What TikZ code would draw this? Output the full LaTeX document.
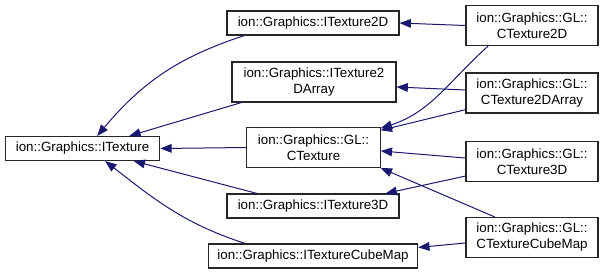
\documentclass[tikz,border=0pt]{standalone}
\usepackage{fontspec}
\setmainfont{Liberation Sans}
\usepackage{tikz}
\usetikzlibrary{arrows.meta}
\definecolor{edgecol}{RGB}{25,25,112}
\tikzset{
  cls box/.style={rectangle,draw=black!85,fill=white,line width=0.8pt,inner sep=0pt,align=center,font=\fontsize{10}{12}\selectfont},
  cls one/.style={cls box,minimum height=18pt},
  cls two/.style={cls box,minimum height=30pt},
  cls edge/.style={draw=edgecol,line width=0.75pt,-{Triangle[length=8.5pt,width=6.5pt]}}
}

\begin{document}
\begin{tikzpicture}[x=0.75pt,y=-0.75pt]
  \useasboundingbox (0,0) rectangle (604,275);
  \node[cls one,minimum width=116pt] (tex) at (82.5,148.5) {ion::Graphics::ITexture};
  \node[cls one,minimum width=129pt] (tex2d) at (313,23) {ion::Graphics::ITexture2D};
  \node[cls two,minimum width=123pt] (tex2darr) at (314,82) {ion::Graphics::ITexture2\\DArray};
  \node[cls two,minimum width=100pt] (gltex) at (313.5,147.5) {ion::Graphics::GL::\\CTexture};
  \node[cls one,minimum width=129pt] (tex3d) at (313,206) {ion::Graphics::ITexture3D};
  \node[cls one,minimum width=157pt] (texcube) at (313,256) {ion::Graphics::ITextureCubeMap};
  \node[cls two,minimum width=99pt] (gl2d) at (532,25.5) {ion::Graphics::GL::\\CTexture2D};
  \node[cls two,minimum width=99pt] (gl2darr) at (532,93) {ion::Graphics::GL::\\CTexture2DArray};
  \node[cls two,minimum width=99pt] (gl3d) at (532,161.5) {ion::Graphics::GL::\\CTexture3D};
  \node[cls two,minimum width=99pt] (glcube) at (532,237.5) {ion::Graphics::GL::\\CTextureCubeMap};
  % interfaces up to ITexture
  \draw[cls edge] ([xshift=13.5pt]tex2d.south west) to[out=198,in=50] ([xshift=11pt]tex.north);
  \draw[cls edge] ([xshift=7.5pt]tex2darr.south west) -- ([xshift=93.5pt]tex.north west);
  \draw[cls edge] (gltex.west) -- (tex.east);
  \draw[cls edge] ([xshift=23pt]tex3d.north west) -- ([xshift=-20pt]tex.south east);
  \draw[cls edge] ([xshift=28pt]texcube.north west) to[out=162,in=-38] ([xshift=17pt]tex.south);
  % GL classes
  \draw[cls edge] (gl2d.west) -- (tex2d.east);
  \draw[cls edge] ([yshift=2.25pt]gl2darr.west) -- ([yshift=-3.75pt]tex2darr.east);
  \draw[cls edge] ([xshift=17pt]gl2d.south west) to[out=222,in=18] ([yshift=-1pt]gltex.north east);
  \draw[cls edge] ([yshift=-12.5pt]gl2darr.west) -- ([yshift=-2.5pt]gltex.north east);
  \draw[cls edge] ([yshift=2.6pt]gl3d.west) -- ([yshift=-2.6pt]gltex.east);
  \draw[cls edge] ([yshift=-10.9pt]gl3d.west) -- ([xshift=-10.5pt]tex3d.north east);
  \draw[cls edge] ([xshift=22pt]glcube.north west) -- (gltex.south east);
  \draw[cls edge] ([yshift=-4.1pt]glcube.west) -- ([yshift=6.4pt]texcube.east);
\end{tikzpicture}
\end{document}
